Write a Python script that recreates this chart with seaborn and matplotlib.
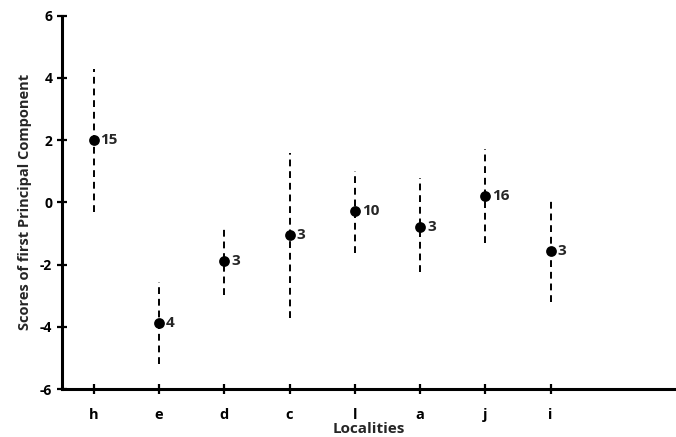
import pandas as pd
import matplotlib.pyplot as plt
import seaborn as sns

# --- data ---
localities = ['h', 'e', 'd', 'c', 'l', 'a', 'j', 'i']
scores = [2.00, -3.87, -1.88, -1.06, -0.28, -0.79, 0.21, -1.57]
upper = [4.28, -2.57, -0.75, 1.58, 1.02, 0.77, 1.71, 0.05]
lower = [-0.32, -5.18, -2.98, -3.71, -1.64, -2.23, -1.29, -3.20]
counts = [15, 4, 3, 3, 10, 3, 16, 3]

df = pd.DataFrame({'loc': localities, 'score': scores,
                   'hi': upper, 'lo': lower, 'n': counts})
df['pos'] = range(len(df))

sns.set_style('white')
plt.rcParams['font.family'] = ['Open Sans', 'DejaVu Sans']
plt.rcParams['axes.unicode_minus'] = False

fig = plt.figure(figsize=(6.76, 4.37), dpi=100)
ax = fig.add_axes([0.0917, 0.1098, 0.9083, 0.8542])

# dashed range lines
ax.vlines(df['pos'], df['lo'], df['hi'], colors='black',
          linestyles=(0, (3.5, 2.5)), linewidth=1.4, zorder=1)

sns.scatterplot(data=df, x='pos', y='score', color='black', s=60,
                edgecolor='black', linewidth=0, ax=ax, zorder=3, legend=False)

for _, r in df.iterrows():
    ax.annotate(str(r['n']), (r['pos'], r['score']), xytext=(5, 0),
                textcoords='offset points', va='center', ha='left',
                fontsize=11, fontweight='bold')

ax.set_xlim(-0.485, 8.92)
ax.set_ylim(-6, 6)
ax.set_yticks(range(-6, 7, 2))
ax.set_xticks(df['pos'])
ax.set_xticklabels(localities)

for s in ['top', 'right']:
    ax.spines[s].set_visible(False)
for s in ['left', 'bottom']:
    ax.spines[s].set_linewidth(2.2)
    ax.spines[s].set_color('black')

ax.tick_params(axis='both', direction='inout', length=7, width=1.6,
               colors='black', labelsize=10, bottom=True, left=True)
ax.tick_params(axis='x', pad=10, labelsize=10.5)
for lbl in ax.get_xticklabels() + ax.get_yticklabels():
    lbl.set_fontweight('bold')

ax.set_xlabel('Localities', fontsize=11, fontweight='bold', labelpad=0)
ax.set_ylabel('Scores of first Principal Component', fontsize=10.5,
              fontweight='bold', labelpad=6)

fig.savefig('out.png', dpi=100)
